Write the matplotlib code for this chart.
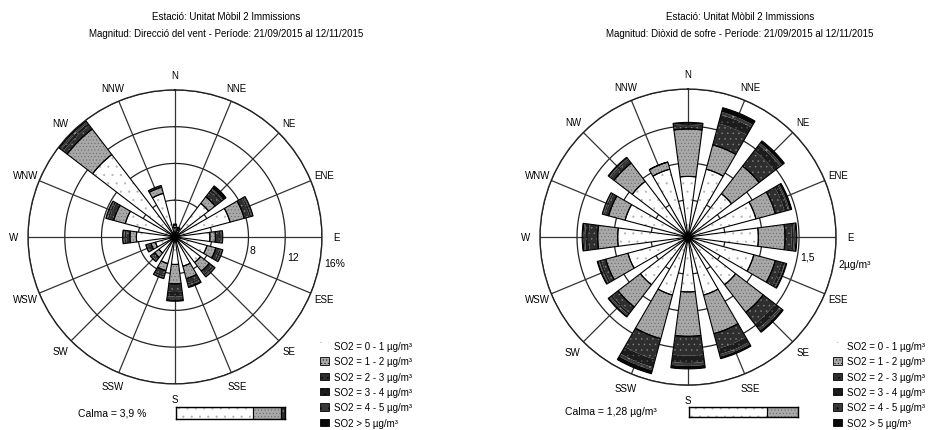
import matplotlib.pyplot as plt
from matplotlib.patches import Patch
import numpy as np

plt.rcParams['font.family'] = ['Liberation Sans', 'DejaVu Sans']
plt.rcParams['hatch.linewidth'] = 0.3

dirs = ['N', 'NNE', 'NE', 'ENE', 'E', 'ESE', 'SE', 'SSE',
        'S', 'SSW', 'SW', 'WSW', 'W', 'WNW', 'NW', 'NNW']
class_labels = ['SO2 = 0 - 1 µg/m³', 'SO2 = 1 - 2 µg/m³', 'SO2 = 2 - 3 µg/m³',
                'SO2 = 3 - 4 µg/m³', 'SO2 = 4 - 5 µg/m³', 'SO2 > 5 µg/m³']

# wind direction frequency (%) by SO2 class
freq_0_1 = [1.0, 0.8, 4.6, 6.2, 3.8, 3.6, 3.5, 3.3, 3.0, 3.0, 2.2, 2.2, 4.2, 5.6, 11.3, 4.9]
freq_1_2 = [0.3, 0.2, 0.9, 1.6, 0.6, 1.0, 1.2, 1.4, 2.1, 0.8, 0.6, 0.5, 0.7, 1.3, 3.5, 0.7]
freq_2_3 = [0.1, 0.1, 0.7, 0.6, 0.4, 0.4, 0.4, 0.5, 0.9, 0.5, 0.3, 0.3, 0.4, 0.5, 0.5, 0.1]
freq_3_4 = [0.0, 0.0, 0.3, 0.2, 0.2, 0.2, 0.2, 0.2, 0.5, 0.2, 0.1, 0.1, 0.2, 0.2, 0.3, 0.1]
freq_4_5 = [0.0, 0.0, 0.1, 0.1, 0.1, 0.1, 0.1, 0.1, 0.3, 0.1, 0.1, 0.1, 0.1, 0.1, 0.2, 0.0]
freq_5p = [0.0, 0.0, 0.4, 0.1, 0.1, 0.1, 0.1, 0.2, 0.2, 0.1, 0.1, 0.1, 0.1, 0.1, 0.1, 0.0]
calm_freq = 3.9
calm_freq_split = [0.71, 0.25, 0.04]

# mean SO2 (µg/m³) by direction and class
conc_0_1 = [0.82, 0.95, 0.74, 0.95, 0.95, 0.92, 0.81, 0.81, 0.74, 0.81, 0.81, 0.84, 0.95, 0.88, 0.95, 0.95]
conc_1_2 = [0.64, 0.34, 0.47, 0.27, 0.36, 0.30, 0.47, 0.54, 0.60, 0.61, 0.38, 0.31, 0.27, 0.23, 0.31, 0.10]
conc_2_3 = [0.05, 0.30, 0.26, 0.13, 0.09, 0.09, 0.20, 0.21, 0.26, 0.29, 0.10, 0.06, 0.12, 0.05, 0.05, 0.0]
conc_3_4 = [0.02, 0.12, 0.10, 0.05, 0.03, 0.04, 0.08, 0.08, 0.10, 0.11, 0.03, 0.03, 0.05, 0.02, 0.02, 0.0]
conc_4_5 = [0.00, 0.04, 0.03, 0.02, 0.02, 0.01, 0.03, 0.03, 0.04, 0.04, 0.02, 0.01, 0.02, 0.01, 0.01, 0.0]
conc_5p = [0.02, 0.06, 0.04, 0.03, 0.02, 0.02, 0.03, 0.03, 0.04, 0.05, 0.02, 0.02, 0.02, 0.01, 0.02, 0.0]
calm_conc = '1,28'
calm_conc_split = [0.72, 0.28]

# face colour, hatch, hatch colour per class
styles = [('white', '..', '#b0b0b0'),
          ('#a8a8a8', '.....', '#606060'),
          ('#2e2e2e', '...', '#8a8a8a'),
          ('#1c1c1c', '...', '#5a5a5a'),
          ('#383838', '..', '#9a9a9a'),
          ('#080808', None, '#080808')]

theta = np.deg2rad(np.arange(16) * 22.5)
width = np.deg2rad(15)


def draw_rose(ax, layers, rmax, rings, ring_labels):
    ax.set_theta_zero_location('N')
    ax.set_theta_direction(-1)
    ax.set_ylim(0, rmax)
    ax.set_xticks([])
    ax.set_yticks([])
    ax.grid(False)
    ax.spines['polar'].set_linewidth(1.0)
    ax.spines['polar'].set_color('#222222')

    circ = np.linspace(0, 2 * np.pi, 361)
    for r in rings:
        ax.plot(circ, [r] * len(circ), color='#222222', lw=0.9, zorder=1)
    for t in theta:
        ax.plot([t, t], [0, rmax], color='#333333', lw=0.9, zorder=1)

    bottom = np.zeros(16)
    for vals, (fc, hatch, hc) in zip(layers, styles):
        vals = np.array(vals)
        ax.bar(theta, vals, width=width, bottom=bottom, color=fc,
               hatch=hatch, edgecolor=hc, linewidth=0, zorder=2)
        bottom += vals

    # outlines: the two low classes and the upper classes as one block
    a = np.array(layers[0])
    b = np.array(layers[1])
    top = np.sum(layers[2:], axis=0)
    for h, btm in ((a, 0), (b, a), (top, a + b)):
        ax.bar(theta, h, width=width, bottom=btm, fill=False,
               edgecolor='black', linewidth=0.8, zorder=3)

    for name, t in zip(dirs, theta):
        ax.text(t, rmax * 1.1, name, ha='center', va='center',
                fontsize=7, clip_on=False)
    for r, lab in zip(rings[-len(ring_labels):], ring_labels):
        ax.text(np.deg2rad(100), r * 1.03, lab, ha='left', va='center',
                fontsize=7.5, clip_on=False)
    ax.plot([0], [0], 'o', color='black', ms=4, zorder=4)


def draw_calm(ax, split):
    left = 0
    for frac, (fc, hatch, hc) in zip(split, styles):
        ax.barh(0, frac, left=left, height=1, color=fc, hatch=hatch,
                edgecolor=hc, linewidth=0)
        ax.barh(0, frac, left=left, height=1, fill=False,
                edgecolor='black', linewidth=0.8)
        left += frac
    ax.set_xlim(0, 1)
    ax.set_ylim(-0.5, 0.5)
    ax.set_xticks([])
    ax.set_yticks([])
    for s in ax.spines.values():
        s.set_linewidth(1.0)


fig = plt.figure(figsize=(9.49, 4.31), dpi=100)

ax1 = fig.add_axes([0.0295, 0.107, 0.3098, 0.682], projection='polar')
draw_rose(ax1, [freq_0_1, freq_1_2, freq_2_3, freq_3_4, freq_4_5, freq_5p],
          16, [4, 8, 12, 16], ['8', '12', '16%'])

ax2 = fig.add_axes([0.569, 0.104, 0.312, 0.687], projection='polar')
draw_rose(ax2, [conc_0_1, conc_1_2, conc_2_3, conc_3_4, conc_4_5, conc_5p],
          2, [0.5, 1, 1.5, 2], ['1,5', '2µg/m³'])

cax1 = fig.add_axes([176 / 949, 11 / 431, 109 / 949, 12 / 431])
draw_calm(cax1, calm_freq_split)
cax2 = fig.add_axes([689 / 949, 13 / 431, 109 / 949, 10 / 431])
draw_calm(cax2, calm_conc_split)

fig.text(78 / 949, 1 - 414 / 431, f'Calma = {str(calm_freq).replace(".", ",")} %',
         fontsize=7.5, va='center')
fig.text(565 / 949, 1 - 412 / 431, f'Calma = {calm_conc} µg/m³',
         fontsize=7.5, va='center')

fig.text(226 / 949, 1 - 17 / 431, 'Estació: Unitat Mòbil 2 Immissions',
         ha='center', va='center', fontsize=7)
fig.text(226 / 949, 1 - 34 / 431,
         'Magnitud: Direcció del vent - Període: 21/09/2015 al 12/11/2015',
         ha='center', va='center', fontsize=7)
fig.text(740 / 949, 1 - 17 / 431, 'Estació: Unitat Mòbil 2 Immissions',
         ha='center', va='center', fontsize=7)
fig.text(740 / 949, 1 - 34 / 431,
         'Magnitud: Diòxid de sofre - Període: 21/09/2015 al 12/11/2015',
         ha='center', va='center', fontsize=7)

handles = [Patch(facecolor=fc, hatch=h, edgecolor=hc if i == 0 else 'black',
                 linewidth=0 if i == 0 else 0.6)
           for i, (fc, h, hc) in enumerate(styles)]
for x0 in (320 / 949, 833 / 949):
    fig.legend(handles, class_labels, loc='upper left', bbox_to_anchor=(x0, 1 - 342 / 431),
               frameon=False, fontsize=7, handlelength=0.9, handleheight=0.8,
               handletextpad=0.5, labelspacing=0.55, borderpad=0, borderaxespad=0)

fig.savefig('out.png', dpi=100)
